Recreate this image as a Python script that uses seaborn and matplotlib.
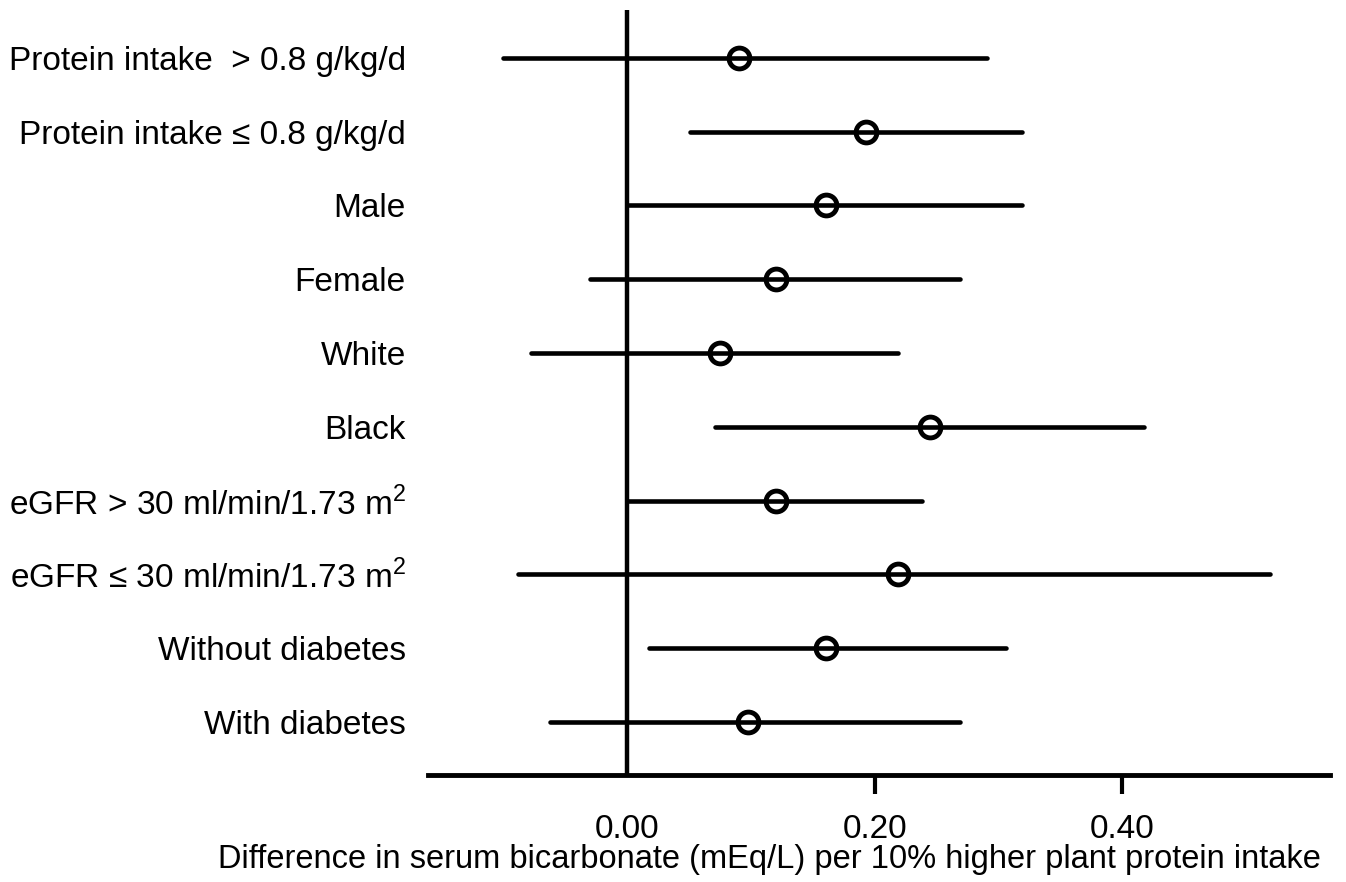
import pandas as pd
import matplotlib
matplotlib.use("Agg")
import matplotlib.pyplot as plt
import seaborn as sns

# subgroup estimates with 95% CI
groups = [
    "Protein intake  > 0.8 g/kg/d",
    "Protein intake \u2264 0.8 g/kg/d",
    "Male",
    "Female",
    "White",
    "Black",
    r"eGFR > 30 ml/min/1.73 m$^\mathregular{2}$",
    "eGFR \u2264 30 ml/min/1.73 m$^\\mathregular{2}$",
    "Without diabetes",
    "With diabetes",
]
estimate = [0.090, 0.193, 0.161, 0.120, 0.075, 0.245, 0.120, 0.219, 0.161, 0.098]
lower = [-0.100, 0.051, 0.000, -0.030, -0.078, 0.071, 0.000, -0.088, 0.018, -0.062]
upper = [0.291, 0.319, 0.319, 0.269, 0.219, 0.418, 0.238, 0.520, 0.306, 0.269]

# long format: median of (lo, est, hi) is the estimate, min/max give the CI
rows = []
for g, lo, est, hi in zip(groups, lower, estimate, upper):
    for v in (lo, est, hi):
        rows.append({"group": g, "value": v})
df = pd.DataFrame(rows)

sns.set_style("white")
plt.rcParams["font.family"] = ["Liberation Sans", "DejaVu Sans"]
plt.rcParams["mathtext.fontset"] = "custom"
plt.rcParams["mathtext.rm"] = "Liberation Sans"
plt.rcParams["text.color"] = "black"
plt.rcParams["axes.labelcolor"] = "black"
plt.rcParams["xtick.color"] = "black"
plt.rcParams["ytick.color"] = "black"

fig = plt.figure(figsize=(13.46, 8.82), dpi=100)
ax = fig.add_axes([0.318, 0.1213, 0.670, 0.8674])

ax.axvline(0, color="black", linewidth=3.2, zorder=1)

sns.pointplot(data=df, x="value", y="group", order=groups,
              estimator="median", errorbar=lambda x: (x.min(), x.max()),
              color="black", linestyle="none", markers="o",
              markersize=15, markeredgewidth=3.5, markerfacecolor="none",
              err_kws={"linewidth": 3.3}, capsize=0, ax=ax)

ax.set_xlim(-0.161, 0.568)
ax.set_ylim(9.72, -0.65)

for s in ["left", "top", "right"]:
    ax.spines[s].set_visible(False)
ax.spines["bottom"].set_linewidth(3.5)
ax.spines["bottom"].set_color("black")

ax.set_xticks([0.0, 0.2, 0.4])
ax.set_xticklabels(["0.00", "0.20", "0.40"])
ax.tick_params(axis="x", bottom=True, direction="out", length=14, width=3,
               color="black", labelsize=24, pad=14)
ax.xaxis.get_major_ticks()[0].tick1line.set_visible(False)
ax.tick_params(axis="y", left=False, length=0, labelsize=24, pad=16)

ax.set_ylabel("")
ax.set_xlabel("Difference in serum bicarbonate (mEq/L) per 10% higher plant protein intake",
              fontsize=23.5)
ax.xaxis.set_label_coords(0.379, -0.09)

fig.savefig("out.png", dpi=100)
